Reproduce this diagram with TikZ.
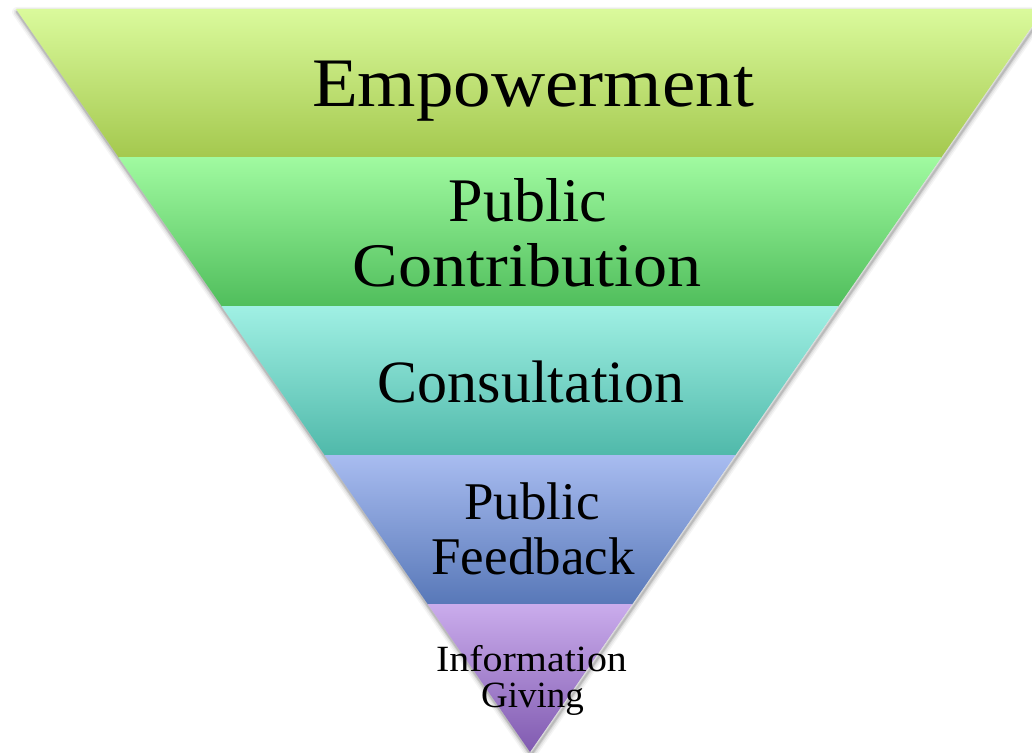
\documentclass[tikz,border=0pt]{standalone}
\usepackage{fontspec}
\setmainfont{Liberation Serif}
\begin{document}
\begin{tikzpicture}[x=1pt,y=-1pt,
  lbl/.style={anchor=base,inner sep=0pt,text=black,transform shape},
  layer/.style={draw=none}]
\useasboundingbox (0,0) rectangle (1032,752);
\clip (0,0) rectangle (1032,752);
\definecolor{l1t}{RGB}{218,250,156}\definecolor{l1b}{RGB}{164,200,78}
\definecolor{l2t}{RGB}{160,250,160}\definecolor{l2b}{RGB}{80,190,92}
\definecolor{l3t}{RGB}{160,240,228}\definecolor{l3b}{RGB}{80,185,170}
\definecolor{l4t}{RGB}{168,188,240}\definecolor{l4b}{RGB}{88,120,184}
\definecolor{l5t}{RGB}{202,172,236}\definecolor{l5b}{RGB}{128,90,176}
\coordinate (tl) at (16,9);
\coordinate (tr) at (1044,9);
\coordinate (ap) at (530,752);
% soft shadow
\foreach \w/\o in {10/0.04,7/0.06,4/0.08,2/0.12}{
  \draw[black,opacity=\o,line width=\w pt,line join=round]
    ([shift={(1,3)}]tl) -- ([shift={(1,3)}]tr) -- ([shift={(1,3)}]ap) -- cycle;
}
\begin{scope}
\clip (tl) -- (tr) -- (ap) -- cycle;
\shade[layer,top color=l1t,bottom color=l1b] (0,9) rectangle (1100,157.5);
\shade[layer,top color=l2t,bottom color=l2b] (0,157.5) rectangle (1100,306);
\shade[layer,top color=l3t,bottom color=l3b] (0,306) rectangle (1100,455);
\shade[layer,top color=l4t,bottom color=l4b] (0,455) rectangle (1100,604);
\shade[layer,top color=l5t,bottom color=l5b] (0,604) rectangle (1100,753);
\end{scope}
\node[lbl,font=\fontsize{69.5}{70}\selectfont,xscale=1.08] (emp) at (533,106.7) {Empowerment};
\node[lbl,font=\fontsize{62}{63}\selectfont] (pc1) at (528,221.7) {Public};
\node[lbl,font=\fontsize{62}{63}\selectfont,xscale=1.1] (pc2) at (527,286.7) {Contribution};
\node[lbl,font=\fontsize{60}{61}\selectfont] (con) at (531,402.7) {Consultation};
\node[lbl,font=\fontsize{53}{54}\selectfont] (pf1) at (532,519.3) {Public};
\node[lbl,font=\fontsize{53}{54}\selectfont] (pf2) at (533,574) {Feedback};
\node[lbl,font=\fontsize{37}{38}\selectfont,xscale=1.08] (ig1) at (531.5,671.5) {Information};
\node[lbl,font=\fontsize{37}{38}\selectfont] (ig2) at (532.5,707) {Giving};
\end{tikzpicture}
\end{document}
